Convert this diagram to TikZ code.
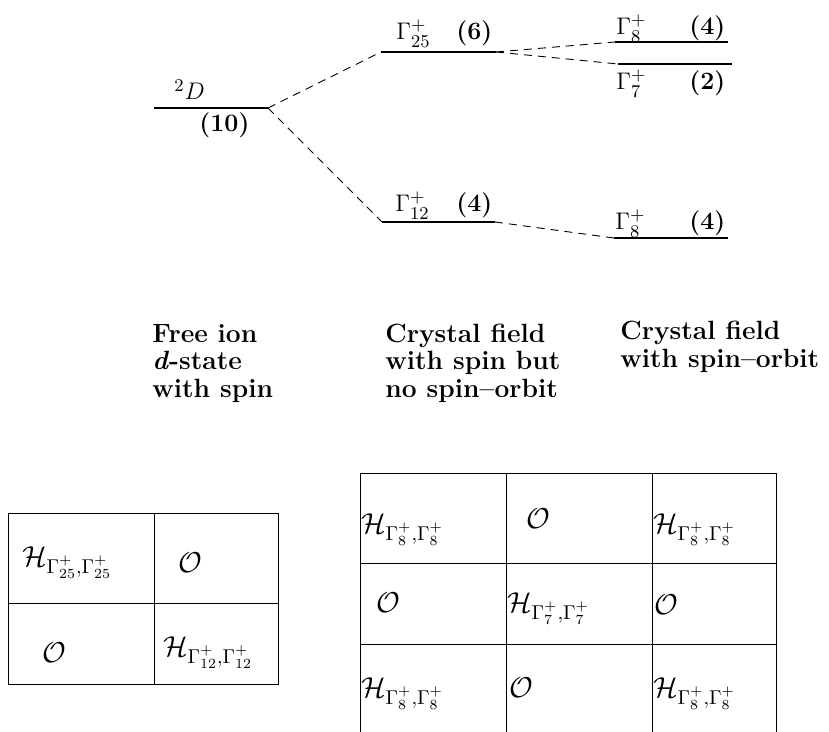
\documentclass[tikz,border=0pt]{standalone}
\usepackage{amsmath}
\begin{document}
\begin{tikzpicture}[x=0.5pt,y=-0.5pt,
  level/.style={line width=1.1pt},
  link/.style={line width=0.45pt,dash pattern=on 4pt off 3pt},
  lab/.style={inner sep=0pt,anchor=base west,font=\fontsize{12.5}{14}\selectfont},
  num/.style={inner sep=0pt,anchor=base west,font=\fontsize{12.5}{14}\selectfont\bfseries},
  col/.style={inner sep=0pt,anchor=base west,font=\fontsize{13.2}{14}\selectfont\bfseries},
  grid/.style={line width=0.5pt},
  cell/.style={inner sep=0pt,anchor=base west,font=\Large}]
\useasboundingbox (0,0) rectangle (829,732);
% levels
\coordinate (Dl) at (154,108); \coordinate (Dr) at (268,108);
\coordinate (Al) at (381,52);  \coordinate (Ar) at (496,52);
\coordinate (Bl) at (382,222); \coordinate (Br) at (495,222);
\coordinate (Cl) at (615,42);  \coordinate (Cr) at (728,42);
\coordinate (El) at (618,64);  \coordinate (Er) at (732,64);
\coordinate (Fl) at (614,238); \coordinate (Fr) at (728,238);
\draw[level] (Dl) -- (Dr);
\draw[level] (Al) -- (Ar);
\draw[level] (Bl) -- (Br);
\draw[level] (Cl) -- (Cr);
\draw[level] (El) -- (Er);
\draw[level] (Fl) -- (Fr);
\draw[link] (Dr) -- (Al);
\draw[link] (Dr) -- (Bl);
\draw[link] (Ar) -- (Cl);
\draw[link] (Ar) -- (El);
\draw[link] (Br) -- (Fl);
% labels
\node[lab] (tD) at (174,100) {$^{2}D$};
\node[num] (nD) at (199,132) {(10)};
\node[lab] (tA) at (396,40) {$\Gamma_{25}^{+}$};
\node[num] (nA) at (456,40) {(6)};
\node[lab] (tB) at (395,212) {$\Gamma_{12}^{+}$};
\node[num] (nB) at (456,212) {(4)};
\node[lab] (tC) at (616,35) {$\Gamma_{8}^{+}$};
\node[num] (nC) at (689,35) {(4)};
\node[lab] (tE) at (616,90) {$\Gamma_{7}^{+}$};
\node[num] (nE) at (689,90) {(2)};
\node[lab] (tF) at (615,230) {$\Gamma_{8}^{+}$};
\node[num] (nF) at (689,230) {(4)};
% column captions
\node[col] (c1a) at (152,343) {Free ion};
\node[col] (c1b) at (152,370) {\textit{d}-state};
\node[col] (c1c) at (152,397) {with spin};
\node[col] (c2a) at (385,343) {Crystal field};
\node[col] (c2b) at (385,370) {with spin but};
\node[col] (c2c) at (385,397) {no spin--orbit};
\node[col] (c3a) at (620,340) {Crystal field};
\node[col] (c3b) at (620,367) {with spin--orbit};
% left table
\draw[grid] (8,513) rectangle (278,684);
\draw[grid] (154,513) -- (154,684);
\draw[grid] (8,603) -- (278,603);
\node[cell] (l11) at (22,566) {$\mathcal{H}_{\Gamma_{25}^{+},\Gamma_{25}^{+}}$};
\node[cell] (l12) at (178,572) {$\mathcal{O}$};
\node[cell] (l21) at (42,662) {$\mathcal{O}$};
\node[cell] (l22) at (163,656) {$\mathcal{H}_{\Gamma_{12}^{+},\Gamma_{12}^{+}}$};
% right table
\draw[grid] (360,732) -- (360,473) -- (776,473) -- (776,732);
\draw[grid] (506,473) -- (506,732);
\draw[grid] (652,473) -- (652,732);
\draw[grid] (360,563) -- (776,563);
\draw[grid] (360,644) -- (776,644);
\node[cell] (r11) at (361,533) {$\mathcal{H}_{\Gamma_{8}^{+},\Gamma_{8}^{+}}$};
\node[cell] (r12) at (526,528) {$\mathcal{O}$};
\node[cell] (r13) at (653,533) {$\mathcal{H}_{\Gamma_{8}^{+},\Gamma_{8}^{+}}$};
\node[cell] (r21) at (376,612) {$\mathcal{O}$};
\node[cell] (r22) at (507,612) {$\mathcal{H}_{\Gamma_{7}^{+},\Gamma_{7}^{+}}$};
\node[cell] (r23) at (654,614) {$\mathcal{O}$};
\node[cell] (r31) at (361,697) {$\mathcal{H}_{\Gamma_{8}^{+},\Gamma_{8}^{+}}$};
\node[cell] (r32) at (509,697) {$\mathcal{O}$};
\node[cell] (r33) at (653,697) {$\mathcal{H}_{\Gamma_{8}^{+},\Gamma_{8}^{+}}$};
\end{tikzpicture}
\end{document}
